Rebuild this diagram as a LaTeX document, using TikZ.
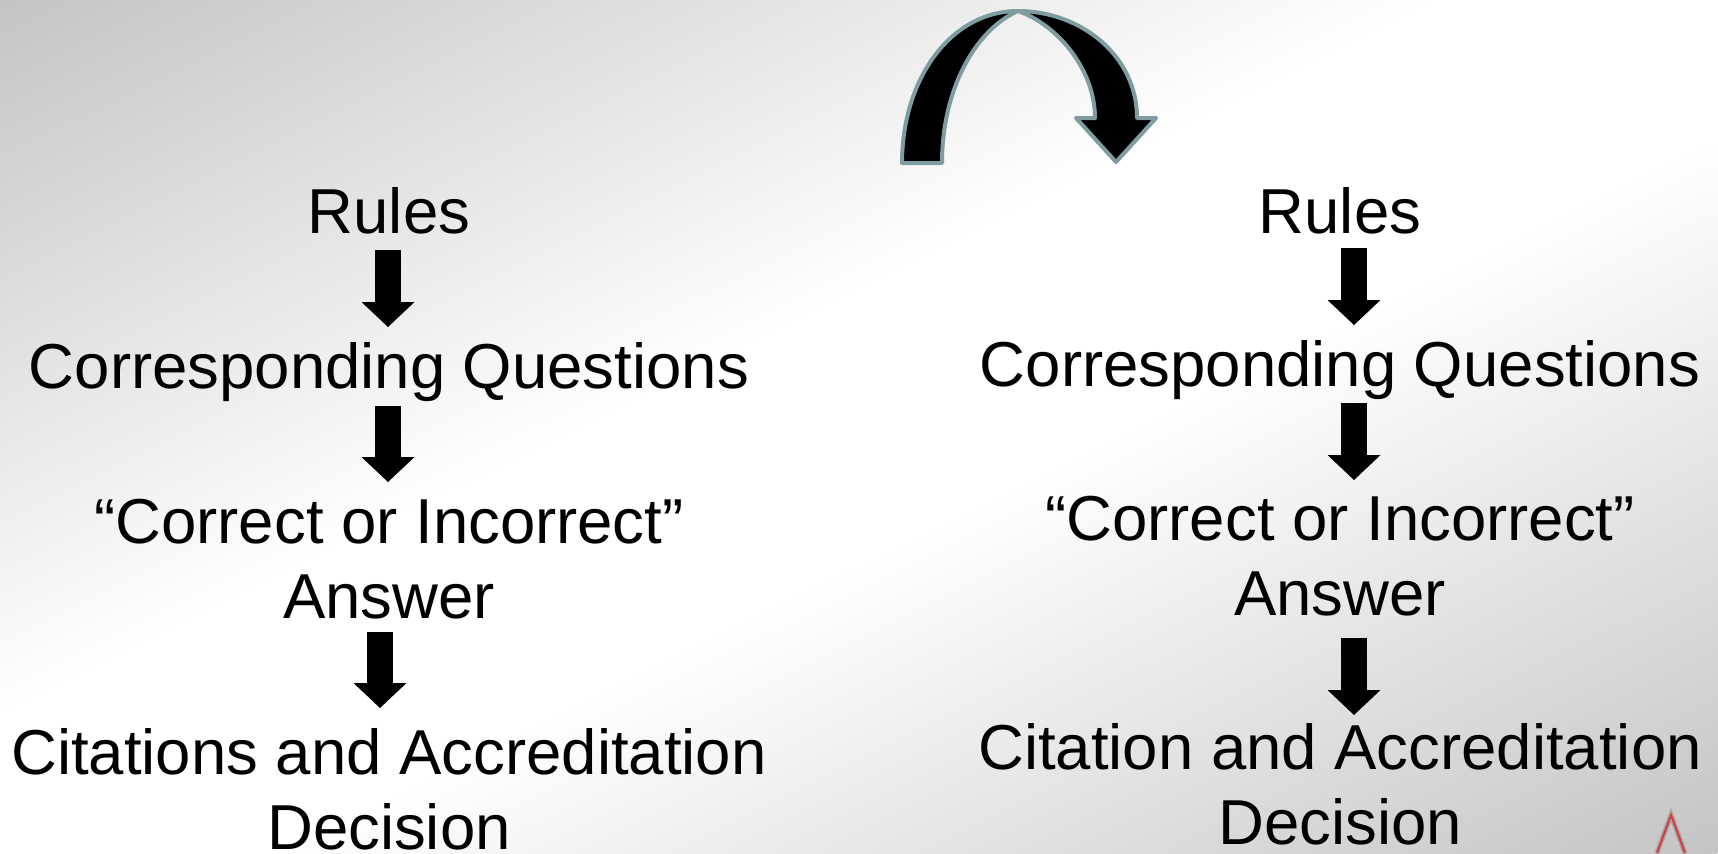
\documentclass[tikz,border=0pt]{standalone}
\usepackage{fontspec}
\setmainfont{Liberation Sans}
\usetikzlibrary{arrows.meta,calc}
\definecolor{bgedge}{RGB}{196,196,196}
\definecolor{curvedge}{RGB}{127,156,160}
\definecolor{logored}{RGB}{214,60,60}
\pgfdeclareverticalshading{bgdiag}{100bp}{color(0bp)=(bgedge); color(25bp)=(bgedge);
 color(46bp)=(white); color(54bp)=(white); color(75bp)=(bgedge); color(100bp)=(bgedge)}

\begin{document}
\begin{tikzpicture}[x=.5pt,y=-.5pt,
 every node/.style={inner sep=0pt,anchor=base,align=center,font=\fontsize{31.75pt}{37.5pt}\selectfont},
 blockarr/.style={line width=13pt,-{Triangle[width=26.5pt,length=12.5pt,line width=0pt]}},
 curvearr/.style={fill=black,draw=curvedge,line width=2pt,line join=round}]
\useasboundingbox (0,0) rectangle (1718,853);
\begin{scope}
 \clip (0,0) rectangle (1718,853);
 \begin{scope}[transform canvas={rotate around={26.4:(859,426.5)}}]
  \shade[shading=bgdiag] (-141,-337.5) rectangle (1859,1190.5);
 \end{scope}
\end{scope}

% curved arrow on top
\draw[curvearr] (902,163) .. controls (902,80) and (950,11) .. (1018,11)
 .. controls (975,30) and (942,90) .. (942,163) -- cycle;
\draw[curvearr] (1018,11) .. controls (1080,11) and (1137,55) .. (1137,118) -- (1156,118)
 -- (1116,162) -- (1076,118) -- (1095,118) .. controls (1095,70) and (1058,25) .. (1018,11) -- cycle;

% left chain
\node (lr) at (389,233) {Rules};
\node (lq) at (389,388) {Corresponding Questions};
\node (la) at (389,618) {“Correct or Incorrect”\\Answer};
\node (ld) at (389,849) {Citations and Accreditation\\Decision};

% right chain
\node (rr) at (1340,233) {Rules};
\node (rq) at (1340,386) {Corresponding Questions};
\node (ra) at (1340,615) {“Correct or Incorrect”\\Answer};
\node (rd) at (1340,844) {Citation and Accreditation\\Decision};

\foreach \a/\b/\dx/\s/\e in {lr/lq/-1/17/-61,lq/la/-1/18/-136,la/ld/-9/14/-141,
 rr/rq/14/15/-61,rq/ra/14/17/-135,ra/rd/14/23/-129}
 \draw[blockarr] ($(\a.base)+(\dx,\s)$) -- ($(\b.base)+(\dx,\e)$);

% corner mark
\draw[black!35,line width=2.5pt] (1657,853) -- (1671,815) -- (1685,853);
\draw[logored,line width=1pt] (1657,853) -- (1671,815) -- (1685,853);
\end{tikzpicture}
\end{document}
